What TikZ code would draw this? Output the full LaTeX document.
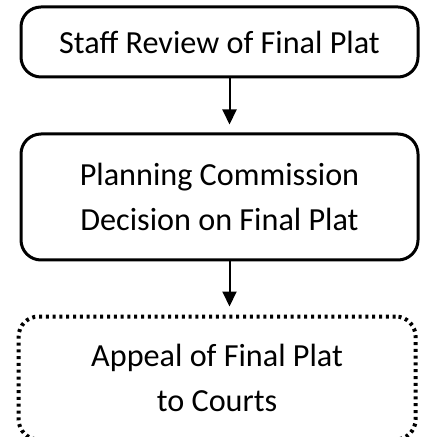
\documentclass[tikz,border=0pt]{standalone}
\usepackage{fontspec}
\setmainfont{Carlito}
\usetikzlibrary{positioning,arrows.meta}

\begin{document}
\begin{tikzpicture}[x=0.5pt, y=-0.5pt, node distance={27pt},
	main/.style = {draw, rounded corners=10pt, line width=1.5pt, minimum width=198.5pt, align=center, inner sep=0pt, font=\fontsize{16.1}{22.5}\selectfont},
	dotbox/.style = {main, line width=2pt, dash pattern=on 1.5pt off 1.9pt}]
		\useasboundingbox (0,0) rectangle (424,437);
		\node[main, minimum height=35pt] (1) at (219.5,42) {Staff Review of Final Plat};
		\node[main, minimum height=63pt] (2) [below=of 1] {Planning Commission\\Decision on Final Plat};
		\node[dotbox, minimum height=61.5pt] (3) [below=26.5pt of 2, xshift=-1.2pt] {Appeal of Final Plat\\to Courts};

		\draw[-{Triangle[width=7pt,length=7.5pt]}, line width=1pt, shorten >=4pt] ([xshift=5pt]1.south) -- ([xshift=5pt]1.south |- 2.north);
		\draw[-{Triangle[width=7pt,length=7.5pt]}, line width=1pt, shorten >=4pt] ([xshift=5pt]2.south) -- ([xshift=5pt]2.south |- 3.north);
	\end{tikzpicture}
\end{document}
